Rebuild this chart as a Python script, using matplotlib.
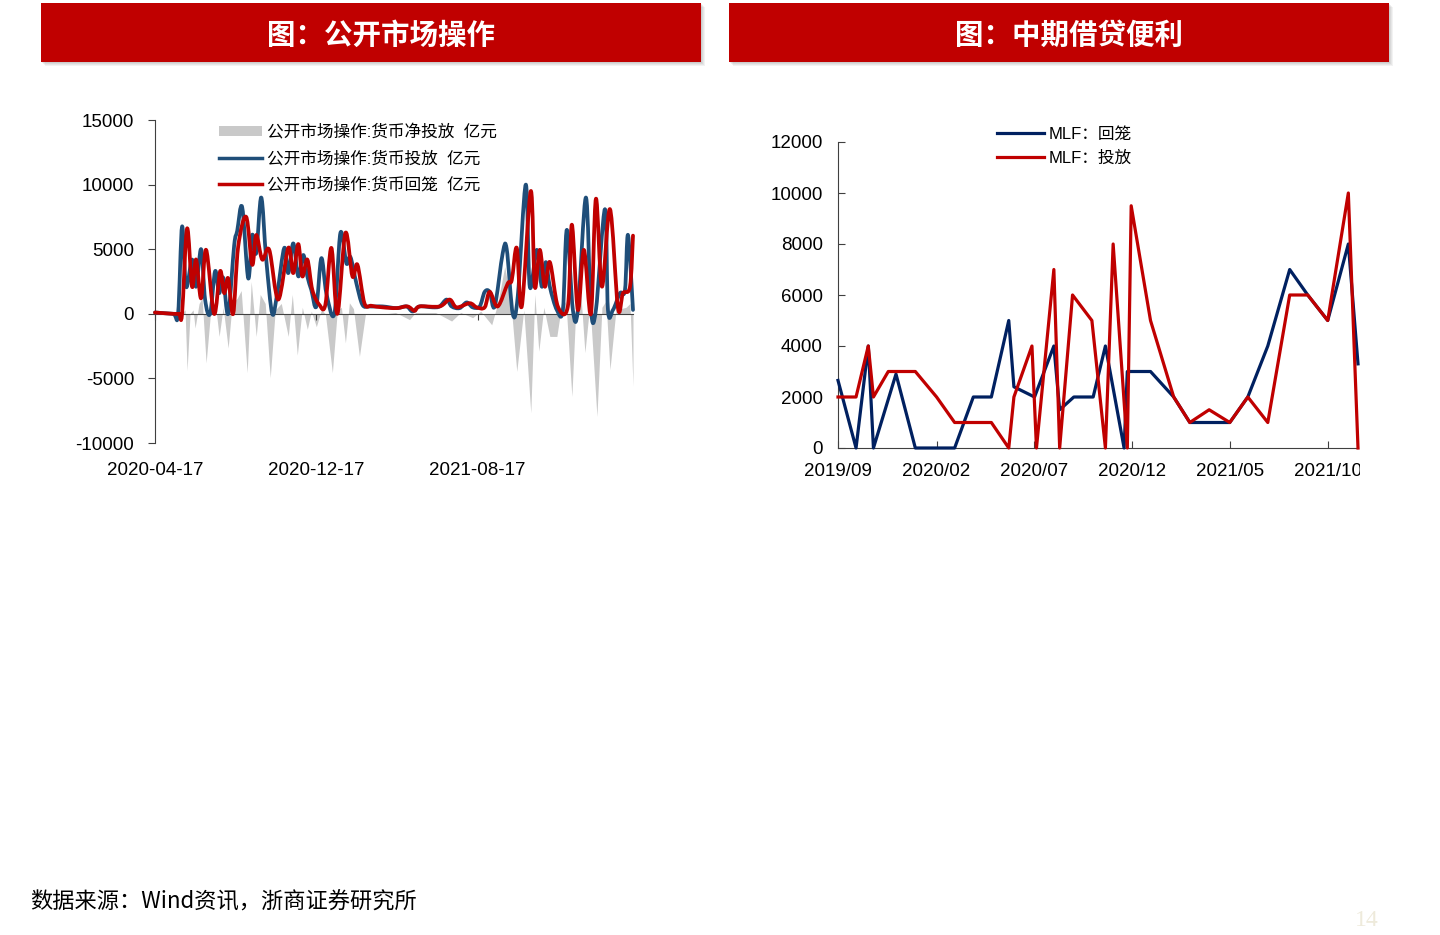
import numpy as np
import pandas as pd
import matplotlib
matplotlib.use('Agg')
import matplotlib.pyplot as plt
import matplotlib.dates as mdates
import matplotlib.transforms as mtransforms
from matplotlib.path import Path
from matplotlib.patches import PathPatch, Rectangle, Patch
from matplotlib.lines import Line2D

plt.rcParams['font.family'] = ['Liberation Sans', 'Noto Sans CJK SC', 'DejaVu Sans']
plt.rcParams['axes.unicode_minus'] = False

W, H = 1440, 935

# ---------- left panel: open market operations (category axis position) ----------
omo_ticks = [0, 161, 322]
omo_tick_labels = ['2020-04-17', '2020-12-17', '2021-08-17']

inj_t = [0, 18, 23, 27, 31, 37, 41, 46, 50, 55, 60,
         64, 68, 73, 79, 82, 87, 93, 97, 101, 106,
         111, 117, 122, 129, 133, 138, 143, 148, 152, 156,
         161, 166, 171, 179, 185, 191, 195, 201, 207, 214,
         227, 241, 251, 257, 264, 277, 284, 291, 296, 304,
         311, 317, 324, 329, 334, 339, 347, 351, 357, 362,
         370, 374, 381, 386, 390, 394, 401, 407, 411, 417,
         422, 430, 435, 440, 449, 452, 457, 464, 469, 472,
         477]
inj_v = [100, 0, 0, 6750, 2100, 4200, 2100, 5000, 1100, 0, 3300,
         1600, 2800, 0, 5300, 6400, 8250, 2750, 6100, 4700, 9000,
         4200, 0, 1600, 5100, 3150, 5450, 2900, 4550, 2900, 1850,
         570, 4300, 1600, 0, 6250, 3900, 4400, 2350, 700, 570,
         570, 440, 570, 180, 570, 500, 570, 1100, 570, 440,
         880, 500, 570, 1700, 1700, 570, 4700, 5000, 0, 1350,
         10000, 2100, 4950, 2100, 4000, 2100, 300, 300, 6500, 300,
         300, 9000, 300, 300, 8100, 300, 300, 1600, 1850, 6100,
         300]

wd_t = [0, 18, 24, 27, 32, 37, 41, 46, 51, 59, 65,
        69, 73, 78, 83, 91, 97, 101, 107, 114, 123,
        133, 138, 143, 147, 152, 157, 164, 170, 176, 182,
        190, 197, 202, 209, 216, 227, 241, 252, 259, 264,
        284, 294, 301, 314, 321, 329, 334, 342, 352, 356,
        361, 366, 375, 379, 384, 389, 394, 402, 412, 416,
        422, 428, 435, 440, 446, 454, 462, 467, 474, 477]
wd_v = [100, 0, 0, 0, 6600, 2100, 4200, 1200, 4950, 0, 3300,
        1600, 2750, 0, 5200, 7500, 3800, 6100, 4200, 4950, 1100,
        5100, 3150, 5400, 2900, 4200, 1850, 700, 700, 5100, 0,
        6250, 2900, 3800, 820, 620, 500, 440, 570, 230, 570,
        570, 1100, 500, 820, 500, 500, 1700, 570, 2350, 2600,
        5100, 570, 9500, 2100, 4950, 2100, 4000, 570, 570, 6900,
        300, 4950, 0, 8900, 2100, 8100, 440, 1600, 2100, 6050]

net_t = [0, 26, 30, 32, 35, 38, 40, 44, 47, 51,
         56, 60, 64, 68, 73, 77, 82, 86, 92, 96,
         101, 105, 110, 115, 120, 126, 133, 137, 142, 147,
         152, 156, 161, 166, 170, 177, 182, 186, 190, 194,
         198, 204, 210, 230, 240, 254, 260, 280, 296, 305,
         317, 325, 336, 342, 349, 355, 361, 368, 375, 379,
         383, 388, 394, 401, 405, 410, 416, 420, 425, 429,
         434, 441, 446, 450, 454, 460, 470, 474, 477]
net_v = [0, 0, 300, -4400, 0, 300, -1100, 800, 1200, -3800,
         600, 900, -1750, 500, -2650, 800, 1200, 1800, -4560, 2500,
         -1750, 1500, 800, -4950, 300, 800, -1750, 1500, -3200, 500,
         -1200, 200, -1000, 300, 0, -4560, 300, 500, -2250, 850,
         400, -3300, 0, 0, 100, -450, 100, 100, -560, 100,
         -300, 200, -850, 800, 3650, 1000, -4460, 300, -7660, 1500,
         -2900, 500, -1750, -1750, 300, 1000, -6400, 500, 1500, -3000,
         800, -7940, 500, 1000, -4330, 300, 500, 800, -5620]

# ---------- right panel: MLF ----------
mlf_back_dates = ['2019-09-01', '2019-09-29', '2019-10-18', '2019-10-26', '2019-11-30',
                  '2019-12-30', '2020-02-29', '2020-03-29', '2020-04-26', '2020-05-23',
                  '2020-05-31', '2020-07-02', '2020-08-01', '2020-08-10', '2020-09-01',
                  '2020-10-01', '2020-10-20', '2020-11-18', '2020-11-23', '2020-12-29',
                  '2021-02-03', '2021-02-28', '2021-03-30', '2021-05-01', '2021-05-29',
                  '2021-06-29', '2021-08-02', '2021-08-30', '2021-09-30', '2021-11-01',
                  '2021-11-16']
mlf_back = [2650, 0, 4000, 0, 2900, 0, 0, 2000, 2000, 5000,
            2400, 2000, 4000, 1500, 2000, 2000, 4000, 0, 3000, 3000,
            2000, 1000, 1000, 1000, 2000, 4000, 7000, 6000, 5000, 8000,
            3300]

mlf_put_dates = ['2019-09-01', '2019-09-29', '2019-10-18', '2019-10-26', '2019-11-18',
                 '2019-12-30', '2020-02-01', '2020-02-29', '2020-04-26', '2020-05-23',
                 '2020-05-31', '2020-06-28', '2020-07-05', '2020-08-01', '2020-08-10',
                 '2020-08-30', '2020-09-29', '2020-10-20', '2020-11-01', '2020-11-23',
                 '2020-11-29', '2020-12-29', '2021-02-03', '2021-02-28', '2021-03-30',
                 '2021-05-01', '2021-05-29', '2021-06-29', '2021-08-02', '2021-08-30',
                 '2021-09-30', '2021-11-01', '2021-11-16']
mlf_put = [2000, 2000, 4000, 2000, 3000, 3000, 2000, 1000, 1000, 0,
           2000, 4000, 0, 7000, 0, 6000, 5000, 0, 8000, 0,
           9500, 5000, 2000, 1000, 1500, 1000, 2000, 1000, 6000, 6000,
           5000, 10000, 0]

mlf_ticks = ['2019-09-01', '2020-02-01', '2020-07-01', '2020-12-01', '2021-05-01', '2021-10-01']
mlf_tick_labels = ['2019/09', '2020/02', '2020/07', '2020/12', '2021/05', '2021/10']

RED = '#C00000'
BLUE = '#1F4E79'
NAVY = '#002060'
GREY = '#C9C9C9'
FS = 13.5


def px_box(x0, y0, x1, y1):
    return [x0 / W, 1 - y1 / H, (x1 - x0) / W, (y1 - y0) / H]


def smooth_path(x, y):
    # Excel-like smoothed line: Catmull-Rom segments as cubic Beziers
    px = np.concatenate([[x[0]], x, [x[-1]]]).astype(float)
    py = np.concatenate([[y[0]], y, [y[-1]]]).astype(float)
    verts = [(px[1], py[1])]
    codes = [Path.MOVETO]
    for i in range(1, len(px) - 2):
        c1 = (px[i] + (px[i + 1] - px[i - 1]) / 6, py[i] + (py[i + 1] - py[i - 1]) / 6)
        c2 = (px[i + 1] - (px[i + 2] - px[i]) / 6, py[i + 1] - (py[i + 2] - py[i]) / 6)
        verts += [c1, c2, (px[i + 1], py[i + 1])]
        codes += [Path.CURVE4] * 3
    return Path(verts, codes)


def banner(fig, x0, y0, x1, y1, title, tx):
    for k, a in enumerate([0.10, 0.10, 0.12, 0.14]):
        off = 4 - k
        fig.add_artist(Rectangle(((x0 + off) / W, 1 - (y1 + off) / H), (x1 - x0) / W, (y1 - y0) / H,
                                 transform=fig.transFigure, color='#808080', alpha=a, lw=0))
    fig.add_artist(Rectangle((x0 / W, 1 - y1 / H), (x1 - x0) / W, (y1 - y0) / H,
                             transform=fig.transFigure, color=RED, lw=0))
    fig.text(tx / W, 1 - 36 / H, title, color='white', fontsize=20.5, fontweight='bold',
             ha='center', va='center', family=['Noto Sans CJK SC'])


fig = plt.figure(figsize=(W / 100, H / 100), dpi=100)
fig.patch.set_facecolor('white')

banner(fig, 41, 3, 701, 62, '图：公开市场操作', 381)
banner(fig, 729, 3, 1389, 62, '图：中期借贷便利', 1069)

# ---- left chart
ax1 = fig.add_axes(px_box(155, 120, 633, 443))
ax1.fill_between(net_t, net_v, 0, color=GREY, lw=0, zorder=1)
ax1.add_patch(PathPatch(smooth_path(inj_t, inj_v), fill=False, edgecolor=BLUE, lw=2.7,
                        capstyle='round', joinstyle='round', zorder=3, clip_on=False))
ax1.add_patch(PathPatch(smooth_path(wd_t, wd_v), fill=False, edgecolor=RED, lw=2.7,
                        capstyle='round', joinstyle='round', zorder=4, clip_on=False))
ax1.set_xlim(0, 477)
ax1.set_ylim(-10000, 15000)
ax1.set_yticks(np.arange(-10000, 15001, 5000))
ax1.spines['right'].set_visible(False)
ax1.spines['top'].set_visible(False)
ax1.spines['bottom'].set_position(('data', 0))
ax1.spines['bottom'].set_color('#404040')
ax1.spines['left'].set_color('#404040')
ax1.spines['bottom'].set_zorder(2)
ax1.set_xticks(omo_ticks)
ax1.set_xticklabels([])
ax1.tick_params(axis='x', direction='out', length=4, color='#404040')
ax1.tick_params(axis='y', direction='out', length=5, color='#404040', labelsize=FS, pad=10)
trans = mtransforms.blended_transform_factory(ax1.transData, ax1.transAxes)
for t, lab in zip(omo_ticks, omo_tick_labels):
    ax1.text(t, -27 / 323, lab, transform=trans, ha='center', va='center', fontsize=FS)

h1 = [Patch(facecolor=GREY, edgecolor='none'),
      Line2D([], [], color=BLUE, lw=2.5),
      Line2D([], [], color=RED, lw=2.5)]
fig.legend(h1, ['公开市场操作:货币净投放  亿元', '公开市场操作:货币投放  亿元', '公开市场操作:货币回笼  亿元'],
           loc='upper left', bbox_to_anchor=(219 / W, 1 - 124 / H), frameon=False,
           fontsize=12, handlelength=2.6, handleheight=0.5, handletextpad=0.3,
           labelspacing=0.62, borderpad=0, borderaxespad=0)

# ---- right chart
ax2 = fig.add_axes(px_box(838, 142, 1358, 448))
bx = mdates.date2num(pd.to_datetime(mlf_back_dates))
rx = mdates.date2num(pd.to_datetime(mlf_put_dates))
ax2.plot(bx, mlf_back, color=NAVY, lw=2.3, clip_on=False, zorder=3)
ax2.plot(rx, mlf_put, color=RED, lw=2.3, clip_on=False, zorder=4)
ax2.set_xlim(mdates.date2num(pd.Timestamp('2019-09-01')), mdates.date2num(pd.Timestamp('2021-11-16')))
ax2.set_ylim(0, 12000)
ax2.set_yticks(np.arange(0, 12001, 2000))
ax2.set_xticks(mdates.date2num(pd.to_datetime(mlf_ticks)))
ax2.set_xticklabels(mlf_tick_labels)
ax2.spines['right'].set_visible(False)
ax2.spines['top'].set_visible(False)
ax2.spines['bottom'].set_color('#404040')
ax2.spines['left'].set_color('#404040')
ax2.tick_params(axis='both', direction='in', length=5, color='#404040', labelsize=FS)
ax2.tick_params(axis='y', pad=11)
ax2.tick_params(axis='x', pad=11)

h2 = [Line2D([], [], color=NAVY, lw=2.3), Line2D([], [], color=RED, lw=2.3)]
fig.legend(h2, ['MLF：回笼', 'MLF：投放'], loc='upper left', bbox_to_anchor=(997 / W, 1 - 127 / H),
           frameon=False, fontsize=12, handlelength=2.8, handletextpad=0.3,
           labelspacing=0.5, borderpad=0, borderaxespad=0)

# the last date label is cut by the panel edge in the source
fig.add_artist(Rectangle((1360 / W, 1 - 490 / H), 60 / W, 35 / H, transform=fig.transFigure,
                         color='white', lw=0, zorder=10))

fig.text(30 / W, 1 - 902 / H, '数据来源：Wind资讯，浙商证券研究所', fontsize=16, va='center', ha='left',
         family=['Noto Sans CJK SC'])
fig.text(1367 / W, 1 - 921 / H, '14', fontsize=17, va='center', ha='center', color='#EEEADB',
         family=['Liberation Serif'])

fig.savefig('out.png', dpi=100, facecolor='white')
